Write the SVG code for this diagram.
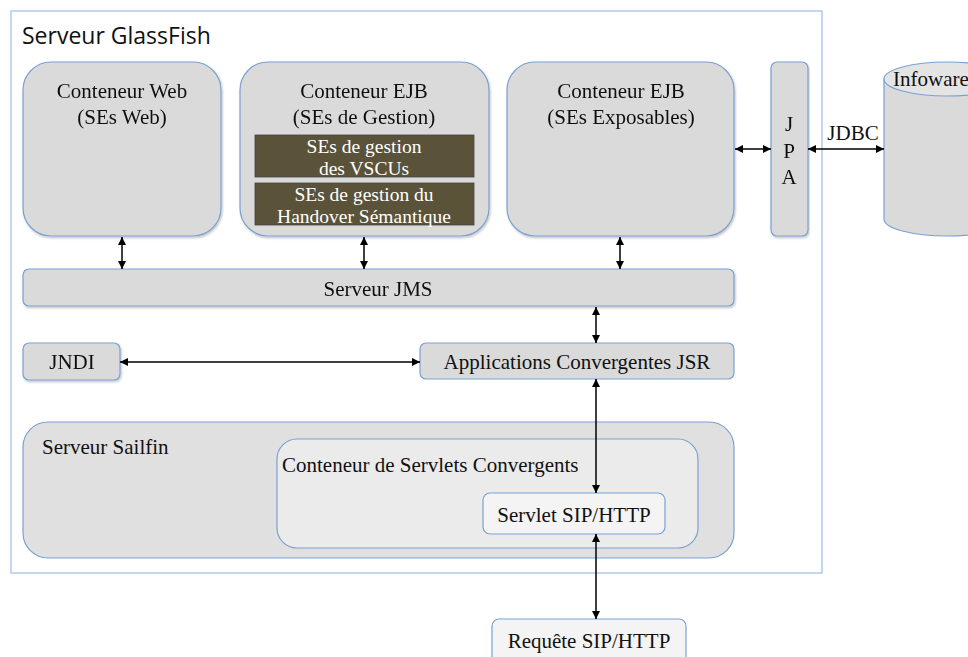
<svg xmlns="http://www.w3.org/2000/svg" width="968" height="657" viewBox="0 0 968 657">
<style>
.box{fill:#dadada;stroke:#7aa1d3;stroke-width:1.2}
.t{font-family:"Liberation Serif","Times New Roman",serif;font-size:21px;fill:#111;text-anchor:middle}
.tl{font-family:"Liberation Serif","Times New Roman",serif;font-size:21px;fill:#111}
.w{font-family:"Liberation Serif","Times New Roman",serif;font-size:19.5px;fill:#fff;text-anchor:middle}
.c{stroke:#000;stroke-width:1.5;fill:none;marker-start:url(#a);marker-end:url(#a)}
</style>
<defs>
<marker id="a" viewBox="0 0 10 10" refX="10" refY="5" markerWidth="8" markerHeight="8" markerUnits="userSpaceOnUse" orient="auto-start-reverse">
<path d="M0,0 L10,5 L0,10 z" fill="#000"/>
</marker>
<filter id="sh" x="-5%" y="-5%" width="110%" height="115%">
<feDropShadow dx="1" dy="1.5" stdDeviation="1" flood-color="#000" flood-opacity="0.25"/>
</filter>
</defs>
<rect width="968" height="657" fill="#fff"/>
<g id="glassfish">
<rect x="11" y="11" width="811" height="562" fill="#fff" stroke="#9dbde3" stroke-width="1.2"/>
<text x="22" y="44" font-family="'Open Sans','Liberation Sans',sans-serif" font-size="23" fill="#111">Serveur GlassFish</text>
</g>
<g id="web" filter="url(#sh)">
<rect class="box" x="23" y="62" width="198" height="174" rx="28"/>
<text class="t" x="122" y="98">Conteneur Web</text>
<text class="t" x="122" y="124">(SEs Web)</text>
</g>
<g id="ejb-gestion" filter="url(#sh)">
<rect class="box" x="240" y="62" width="249" height="174" rx="28"/>
<text class="t" x="364" y="98">Conteneur EJB</text>
<text class="t" x="364" y="124">(SEs de Gestion)</text>
</g>
<g id="se-vscu">
<rect x="255" y="135" width="219" height="42" fill="#5b5339" stroke="#444" stroke-width="0.8"/>
<text class="w" x="364" y="153">SEs de gestion</text>
<text class="w" x="364" y="175">des VSCUs</text>
</g>
<g id="se-handover">
<rect x="255" y="183" width="219" height="42" fill="#5b5339" stroke="#444" stroke-width="0.8"/>
<text class="w" x="364" y="201">SEs de gestion du</text>
<text class="w" x="364" y="223">Handover Sémantique</text>
</g>
<g id="ejb-expo" filter="url(#sh)">
<rect class="box" x="507" y="62" width="227" height="174" rx="28"/>
<text class="t" x="621" y="98">Conteneur EJB</text>
<text class="t" x="621" y="124">(SEs Exposables)</text>
</g>
<g id="jpa" filter="url(#sh)">
<rect class="box" x="771" y="62" width="37" height="174" rx="6"/>
<text class="t" x="789" y="131">J</text>
<text class="t" x="789" y="158">P</text>
<text class="t" x="789" y="184">A</text>
</g>
<g id="infoware">
<path d="M884,79 L884,219 A63,17 0 0 0 1010,219 L1010,79" fill="#dadada" stroke="#7aa1d3" stroke-width="1.2"/>
<ellipse cx="947" cy="79" rx="63" ry="17" fill="#e4e4e4" stroke="#7aa1d3" stroke-width="1.2"/>
<text class="tl" x="893" y="86" font-size="20">Infoware</text>
</g>
<g id="jms" filter="url(#sh)">
<rect class="box" x="23" y="269" width="711" height="37" rx="6"/>
<text class="t" x="378" y="296">Serveur JMS</text>
</g>
<g id="jndi" filter="url(#sh)">
<rect class="box" x="23" y="343" width="97" height="37" rx="6"/>
<text class="t" x="72" y="369">JNDI</text>
</g>
<g id="apps">
<rect class="box" x="420" y="343" width="314" height="36" rx="6" fill="#dedede"/>
<text class="t" x="577" y="369">Applications Convergentes JSR</text>
</g>
<g id="sailfin">
<rect x="23" y="422" width="711" height="136" rx="25" fill="#e0e0e0" stroke="#7aa1d3" stroke-width="1.2"/>
<text class="tl" x="42" y="454">Serveur Sailfin</text>
</g>
<g id="servlet-container">
<rect x="277" y="439" width="421" height="109" rx="20" fill="#ebebeb" stroke="#7aa1d3" stroke-width="1.2"/>
<text class="tl" x="282" y="472">Conteneur de Servlets Convergents</text>
</g>
<g id="servlet">
<rect x="483" y="493" width="182" height="41" rx="7" fill="#f4f4f4" stroke="#7aa1d3" stroke-width="1.2"/>
<text class="t" x="574" y="522">Servlet SIP/HTTP</text>
</g>
<g id="requete">
<rect x="492" y="619" width="194" height="44" rx="7" fill="#f4f4f4" stroke="#7aa1d3" stroke-width="1.2"/>
<text class="t" x="589" y="648">Requête SIP/HTTP</text>
</g>
<g id="connectors">
<line class="c" x1="122" y1="237" x2="122" y2="269"/>
<line class="c" x1="364" y1="237" x2="364" y2="269"/>
<line class="c" x1="620" y1="237" x2="620" y2="269"/>
<line class="c" x1="735" y1="149" x2="771" y2="149"/>
<line class="c" x1="808" y1="149" x2="884" y2="149"/>
<text class="t" x="853" y="140" font-size="19">JDBC</text>
<line class="c" x1="596" y1="307" x2="596" y2="343"/>
<line class="c" x1="120" y1="362" x2="420" y2="362"/>
<line class="c" x1="596" y1="379" x2="596" y2="493"/>
<line class="c" x1="596" y1="534" x2="596" y2="619"/>
</g>
</svg>
